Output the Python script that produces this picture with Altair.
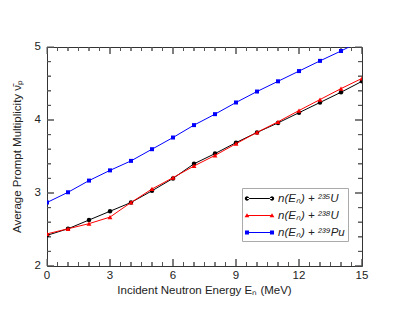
import altair as alt
import pandas as pd

# ---- data ----
energy = list(range(16))
nu_u235 = [2.42, 2.51, 2.63, 2.75, 2.87, 3.03, 3.20, 3.40, 3.54, 3.69, 3.83, 3.96, 4.10, 4.24, 4.38, 4.53]
nu_u238 = [2.44, 2.51, 2.58, 2.67, 2.87, 3.055, 3.21, 3.37, 3.515, 3.675, 3.83, 3.975, 4.13, 4.28, 4.43, 4.57]
nu_pu239 = [2.87, 3.01, 3.17, 3.31, 3.44, 3.60, 3.76, 3.93, 4.08, 4.24, 4.39, 4.53, 4.67, 4.81, 4.945, 5.09]

series_names = ["n(Eₙ) + ²³⁵U", "n(Eₙ) + ²³⁸U", "n(Eₙ) + ²³⁹Pu"]
series_colors = ["#000000", "#ff0000", "#0000ff"]
marker_shapes = ["circle", "triangle-up", "square"]
marker_sizes = [20, 24, 16]

x_major = [0, 3, 6, 9, 12, 15]
x_labels = ["0", "3", "6", "9", "12", "15"]
x_minor = [0.5, 1, 1.5, 2, 2.5, 3.5, 4, 4.5, 5, 5.5, 6.5, 7, 7.5, 8, 8.5,
           9.5, 10, 10.5, 11, 11.5, 12.5, 13, 13.5, 14, 14.5]
y_major = [2, 3, 4, 5]
y_labels = ["2", "3", "4", "5"]
y_minor = [2.2, 2.4, 2.6, 2.8, 3.2, 3.4, 3.6, 3.8, 4.2, 4.4, 4.6, 4.8]
x_lo, x_hi = 0, 15
y_lo, y_hi = 2, 5
x_title = "Incident Neutron Energy  Eₙ  (MeV)"
y_title = "Average Prompt Multiplicity  ν̄ₚ"

W, H = 315, 219
FONT = "Liberation Sans"
FS = 11.5
TXT = "#222222"
TICK = "#555555"
MAJOR_PX, MINOR_PX = 7, 4

frames = []
for name, vals in zip(series_names, [nu_u235, nu_u238, nu_pu239]):
    frames.append(pd.DataFrame({"E": energy, "nu": vals, "series": name}))
df = pd.concat(frames, ignore_index=True)

x_scale = alt.Scale(domain=[x_lo, x_hi], nice=False, zero=False)
y_scale = alt.Scale(domain=[y_lo, y_hi], nice=False, zero=False)


def X(field):
    return alt.X(field, scale=x_scale, axis=None)


def Y(field):
    return alt.Y(field, scale=y_scale, axis=None)


def XD(v):
    return alt.XDatum(v, scale=x_scale, axis=None)


def YD(v):
    return alt.YDatum(v, scale=y_scale, axis=None)


layers = []

# ---- inward tick marks: short two-point line segments from the frame inward ----
px_per_x = W / (x_hi - x_lo)
px_per_y = H / (y_hi - y_lo)
rows = []
tid = 0
for vals, px in [(x_major, MAJOR_PX), (x_minor, MINOR_PX)]:
    d = px / px_per_y
    for v in vals:
        for edge, sign in ((y_lo, 1), (y_hi, -1)):
            rows.append({"E": v, "nu": edge, "tid": tid, "k": 0})
            rows.append({"E": v, "nu": edge + sign * d, "tid": tid, "k": 1})
            tid += 1
for vals, px in [(y_major, MAJOR_PX), (y_minor, MINOR_PX)]:
    d = px / px_per_x
    for v in vals:
        for edge, sign in ((x_lo, 1), (x_hi, -1)):
            rows.append({"E": edge, "nu": v, "tid": tid, "k": 0})
            rows.append({"E": edge + sign * d, "nu": v, "tid": tid, "k": 1})
            tid += 1
ticks_df = pd.DataFrame(rows)
layers.append(alt.Chart(ticks_df).mark_line(color=TICK, strokeWidth=1, opacity=1).encode(
    x=X("E:Q"), y=Y("nu:Q"), detail="tid:N", order="k:Q"))

# same ticks as centred tick marks clipped to the plot (overlap exactly)
for vals, length in [(x_major, 2 * MAJOR_PX), (x_minor, 2 * MINOR_PX)]:
    tdf = pd.DataFrame({"v": vals})
    for edge in (y_lo, y_hi):
        layers.append(alt.Chart(tdf).mark_tick(orient="vertical", size=length, thickness=1,
                                               color=TICK, opacity=1, clip=True).encode(
            x=X("v:Q"), y=YD(edge)))
for vals, length in [(y_major, 2 * MAJOR_PX), (y_minor, 2 * MINOR_PX)]:
    tdf = pd.DataFrame({"v": vals})
    for edge in (x_lo, x_hi):
        layers.append(alt.Chart(tdf).mark_tick(orient="horizontal", size=length, thickness=1,
                                               color=TICK, opacity=1, clip=True).encode(
            y=Y("v:Q"), x=XD(edge)))

# ---- tick labels and axis titles ----
xlab_df = pd.DataFrame({"v": x_major, "lab": x_labels})
layers.append(alt.Chart(xlab_df).mark_text(font=FONT, fontSize=FS, color=TXT, align="center",
                                           baseline="top", dy=4).encode(
    x=X("v:Q"), y=YD(y_lo), text="lab:N"))
ylab_df = pd.DataFrame({"v": y_major, "lab": y_labels})
layers.append(alt.Chart(ylab_df).mark_text(font=FONT, fontSize=FS, color=TXT, align="right",
                                           baseline="middle", dx=-6).encode(
    y=Y("v:Q"), x=XD(x_lo), text="lab:N"))
xt_df = pd.DataFrame({"t": [x_title]})
layers.append(alt.Chart(xt_df).mark_text(font=FONT, fontSize=FS, color=TXT, align="center",
                                         baseline="top", dy=19).encode(
    x=XD((x_lo + x_hi) / 2), y=YD(y_lo), text="t:N"))
yt_df = pd.DataFrame({"t": [y_title]})
layers.append(alt.Chart(yt_df).mark_text(font=FONT, fontSize=FS, color=TXT, align="center",
                                         baseline="alphabetic", angle=270, dy=-26).encode(
    x=XD(x_lo), y=YD((y_lo + y_hi) / 2), text="t:N"))

# ---- data series ----
for name, col, shp, sz in zip(series_names, series_colors, marker_shapes, marker_sizes):
    base = alt.Chart(df).transform_filter(alt.datum.series == name)
    layers.append(base.mark_line(color=col, strokeWidth=1, clip=True).encode(
        x=X("E:Q"), y=Y("nu:Q")))
    layers.append(base.mark_point(shape=shp, size=sz, filled=True, color=col,
                                  opacity=1, strokeWidth=0, clip=True).encode(
        x=X("E:Q"), y=Y("nu:Q")))

# ---- legend: line with a marker at both ends (unit = 7.5 px) ----
L = 1.667
t = 0.067


def circle_at(cx, r):
    return f"M{cx - r},0 a{r},{r} 0 1,0 {2 * r},0 a{r},{r} 0 1,0 {-2 * r},0 Z"


def tri_at(cx, w, h):
    return f"M{cx},{-h} L{cx + w},{h * 0.8} L{cx - w},{h * 0.8} Z"


def sq_at(cx, s):
    return f"M{cx - s},{-s} H{cx + s} V{s} H{cx - s} Z"


line_path = f"M{-L},{-t} H{L} V{t} H{-L} Z "
legend_paths = [
    line_path + circle_at(-L, 0.29) + " " + circle_at(L, 0.29),
    line_path + tri_at(-L, 0.32, 0.3) + " " + tri_at(L, 0.32, 0.3),
    line_path + sq_at(-L, 0.27) + " " + sq_at(L, 0.27),
]

legend_kw = dict(title=None, orient="none", legendX=195, legendY=141, padding=3,
                 symbolSize=225, symbolOffset=7, labelOffset=11, rowPadding=4,
                 labelFont=FONT, labelFontSize=FS, labelFontStyle="italic",
                 labelColor=TXT, strokeColor="#aaaaaa", fillColor="#ffffff",
                 symbolStrokeWidth=0, symbolOpacity=1)

layers.append(
    alt.Chart(df).mark_point(filled=True, opacity=0).encode(
        x=X("E:Q"), y=Y("nu:Q"),
        color=alt.Color("series:N", scale=alt.Scale(domain=series_names, range=series_colors),
                        legend=alt.Legend(**legend_kw)),
        shape=alt.Shape("series:N", scale=alt.Scale(domain=series_names, range=legend_paths),
                        legend=alt.Legend(**legend_kw)),
    )
)

chart = (
    alt.layer(*layers)
    .properties(width=W, height=H,
                padding={"left": 39, "top": 39, "right": 37, "bottom": 40},
                autosize=alt.AutoSizeParams(type="none"))
    .configure_view(stroke="#333333", strokeWidth=1)
)

chart.save("out.html", embed_options={"renderer": "svg", "actions": False})
